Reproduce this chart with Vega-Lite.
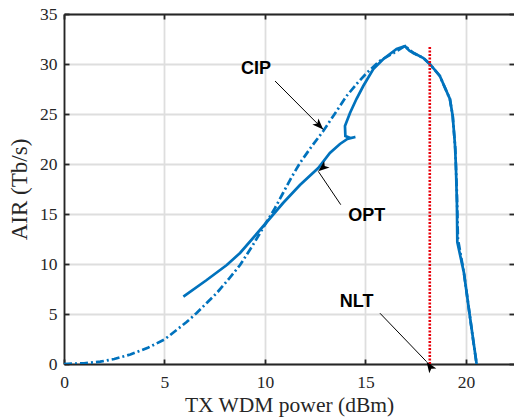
{
  "$schema": "https://vega.github.io/schema/vega-lite/v6.json",
  "width": 450,
  "height": 350,
  "autosize": {"type": "none"},
  "padding": {"left": 64, "top": 14, "right": 0, "bottom": 56},
  "background": "white",
  "config": {
    "view": {"stroke": null},
    "axis": {
      "labelFont": "Liberation Serif",
      "titleFont": "Liberation Serif",
      "labelFontSize": 17.5,
      "titleFontSize": 21.5,
      "titleFontWeight": "normal",
      "labelColor": "#262626",
      "titleColor": "#262626",
      "domainColor": "#262626",
      "domainWidth": 1.8,
      "tickColor": "#262626",
      "tickWidth": 1.8,
      "tickSize": -5,
      "labelFlush": false,
      "gridColor": "#dedede",
      "gridWidth": 1.8,
      "gridOpacity": 1
    }
  },
  "datasets": {
    "cip": [
      {"i": 0, "p": 0, "air": 0},
      {"i": 1, "p": 1.0, "air": 0.07},
      {"i": 2, "p": 1.8, "air": 0.23},
      {"i": 3, "p": 2.5, "air": 0.5},
      {"i": 4, "p": 3.3, "air": 0.95},
      {"i": 5, "p": 4.2, "air": 1.65},
      {"i": 6, "p": 5.0, "air": 2.45},
      {"i": 7, "p": 5.6, "air": 3.4},
      {"i": 8, "p": 6.1, "air": 4.2},
      {"i": 9, "p": 6.6, "air": 5.1},
      {"i": 10, "p": 7.1, "air": 6.1},
      {"i": 11, "p": 7.6, "air": 7.1},
      {"i": 12, "p": 8.2, "air": 8.5},
      {"i": 13, "p": 8.76, "air": 9.9},
      {"i": 14, "p": 9.4, "air": 11.9},
      {"i": 15, "p": 10.08, "air": 14.2},
      {"i": 16, "p": 10.5, "air": 15.6},
      {"i": 17, "p": 10.9, "air": 17.1},
      {"i": 18, "p": 11.3, "air": 18.6},
      {"i": 19, "p": 11.74, "air": 20.1},
      {"i": 20, "p": 12.3, "air": 21.7},
      {"i": 21, "p": 12.9, "air": 23.3},
      {"i": 22, "p": 13.5, "air": 25.1},
      {"i": 23, "p": 14.06, "air": 26.8},
      {"i": 24, "p": 14.6, "air": 28.1},
      {"i": 25, "p": 15.06, "air": 29.1},
      {"i": 26, "p": 15.7, "air": 30.3},
      {"i": 27, "p": 16.4, "air": 31.1},
      {"i": 28, "p": 16.97, "air": 31.8},
      {"i": 29, "p": 17.38, "air": 31.1},
      {"i": 30, "p": 17.88, "air": 30.6},
      {"i": 31, "p": 18.2, "air": 30.0},
      {"i": 32, "p": 18.7, "air": 28.8},
      {"i": 33, "p": 19.2, "air": 26.5},
      {"i": 34, "p": 19.34, "air": 24.8},
      {"i": 35, "p": 19.47, "air": 21.5},
      {"i": 36, "p": 19.55, "air": 17.0},
      {"i": 37, "p": 19.6, "air": 12.5},
      {"i": 38, "p": 19.9, "air": 9.1},
      {"i": 39, "p": 20.2, "air": 4.7},
      {"i": 40, "p": 20.35, "air": 2.5},
      {"i": 41, "p": 20.53, "air": 0}
    ],
    "opt": [
      {"i": 0, "p": 5.94, "air": 6.74},
      {"i": 1, "p": 7.1, "air": 8.4},
      {"i": 2, "p": 8.1, "air": 9.9},
      {"i": 3, "p": 8.76, "air": 11.1},
      {"i": 4, "p": 9.75, "air": 13.4},
      {"i": 5, "p": 10.9, "air": 16.1},
      {"i": 6, "p": 11.74, "air": 17.9},
      {"i": 7, "p": 12.65, "air": 19.6},
      {"i": 8, "p": 13.23, "air": 21.1},
      {"i": 9, "p": 13.73, "air": 22.0},
      {"i": 10, "p": 14.1, "air": 22.5},
      {"i": 11, "p": 14.5, "air": 22.7},
      {"i": 12, "p": 14.25, "air": 22.6},
      {"i": 13, "p": 14.0, "air": 22.8},
      {"i": 14, "p": 13.98, "air": 23.8},
      {"i": 15, "p": 14.23, "air": 25.1},
      {"i": 16, "p": 14.55, "air": 26.5},
      {"i": 17, "p": 14.89, "air": 27.8},
      {"i": 18, "p": 15.39, "air": 29.5},
      {"i": 19, "p": 15.89, "air": 30.5},
      {"i": 20, "p": 16.55, "air": 31.5},
      {"i": 21, "p": 16.97, "air": 31.8},
      {"i": 22, "p": 17.05, "air": 31.6},
      {"i": 23, "p": 17.2, "air": 31.3},
      {"i": 24, "p": 17.5, "air": 31.0},
      {"i": 25, "p": 17.88, "air": 30.6},
      {"i": 26, "p": 18.2, "air": 30.0},
      {"i": 27, "p": 18.7, "air": 28.8},
      {"i": 28, "p": 19.2, "air": 26.5},
      {"i": 29, "p": 19.34, "air": 24.8},
      {"i": 30, "p": 19.45, "air": 22.0},
      {"i": 31, "p": 19.5, "air": 19.8},
      {"i": 32, "p": 19.55, "air": 16.0},
      {"i": 33, "p": 19.57, "air": 12.2},
      {"i": 34, "p": 19.9, "air": 9.1},
      {"i": 35, "p": 20.2, "air": 4.7},
      {"i": 36, "p": 20.53, "air": 0}
    ],
    "nlt": [
      {"p": 18.2, "lo": 0, "hi": 31.8}
    ],
    "notes": [
      {"label": "CIP", "tx": 9.55, "ty": 29.5, "x0": 10.5, "y0": 28.3, "x1": 12.9, "y1": 23.45},
      {"label": "OPT", "tx": 15.06, "ty": 14.76, "x0": 13.77, "y0": 15.93, "x1": 12.65, "y1": 19.27},
      {"label": "NLT", "tx": 14.56, "ty": 6.24, "x0": 15.72, "y0": 5.08, "x1": 18.04, "y1": 0.23}
    ]
  },
  "layer": [
    {
      "data": {"name": "cip"},
      "mark": {"type": "line", "color": "#0072BD", "strokeWidth": 2.7, "strokeDash": [8, 3, 2, 3], "clip": true},
      "encoding": {
        "x": {
          "field": "p", "type": "quantitative",
          "scale": {"domain": [0, 22.39], "nice": false, "zero": false},
          "axis": {"values": [0, 5, 10, 15, 20], "title": "TX WDM power (dBm)", "grid": true, "labelPadding": 14, "titlePadding": 4}
        },
        "y": {
          "field": "air", "type": "quantitative",
          "scale": {"domain": [0, 35], "nice": false},
          "axis": {"values": [0, 5, 10, 15, 20, 25, 30, 35], "title": "AIR (Tb/s)", "titleFontSize": 23, "grid": true, "labelPadding": 12, "titlePadding": 8}
        },
        "order": {"field": "i", "type": "quantitative"}
      }
    },
    {
      "data": {"name": "opt"},
      "mark": {"type": "line", "color": "#0072BD", "strokeWidth": 2.7, "clip": true},
      "encoding": {
        "x": {"field": "p", "type": "quantitative", "axis": null},
        "y": {"field": "air", "type": "quantitative", "axis": null},
        "order": {"field": "i", "type": "quantitative"}
      }
    },
    {
      "data": {"name": "nlt"},
      "mark": {"type": "rule", "color": "#e8000b", "strokeWidth": 2.6, "strokeDash": [2, 1.5]},
      "encoding": {
        "x": {"field": "p", "type": "quantitative", "axis": null},
        "y": {"field": "lo", "type": "quantitative", "axis": null},
        "y2": {"field": "hi"}
      }
    },
    {
      "data": {"name": "notes"},
      "mark": {"type": "rule", "color": "black", "strokeWidth": 1},
      "encoding": {
        "x": {"field": "x0", "type": "quantitative", "axis": null},
        "y": {"field": "y0", "type": "quantitative", "axis": null},
        "x2": {"field": "x1"},
        "y2": {"field": "y1"}
      }
    },
    {
      "data": {"name": "notes"},
      "mark": {"type": "point", "shape": "M0,0 L-0.38,1 L0,0.75 L0.38,1 Z", "filled": true, "color": "black", "size": 500, "opacity": 1},
      "encoding": {
        "x": {"field": "x1", "type": "quantitative", "axis": null},
        "y": {"field": "y1", "type": "quantitative", "axis": null},
        "angle": {"field": "label", "type": "nominal", "scale": {"domain": ["CIP", "OPT", "NLT"], "range": [135, 326, 136]}, "legend": null}
      }
    },
    {
      "data": {"name": "notes"},
      "mark": {"type": "text", "font": "Liberation Sans", "fontWeight": "bold", "fontSize": 18, "color": "black", "baseline": "middle", "align": "center"},
      "encoding": {
        "x": {"field": "tx", "type": "quantitative", "axis": null},
        "y": {"field": "ty", "type": "quantitative", "axis": null},
        "text": {"field": "label"}
      }
    },
    {
      "data": {"values": [{"p": 0}]},
      "mark": {"type": "rule", "opacity": 0},
      "encoding": {
        "x": {"field": "p", "type": "quantitative", "axis": {"orient": "top", "values": [0, 5, 10, 15, 20], "labels": false, "title": null, "grid": false}}
      }
    },
    {
      "data": {"values": [{"a": 0}]},
      "mark": {"type": "rule", "opacity": 0},
      "encoding": {
        "y": {"field": "a", "type": "quantitative", "axis": {"orient": "right", "values": [0, 5, 10, 15, 20, 25, 30, 35], "labels": false, "title": null, "grid": false, "domain": false}}
      }
    }
  ],
  "resolve": {"axis": {"x": "independent", "y": "independent"}, "scale": {"x": "shared", "y": "shared"}}
}
